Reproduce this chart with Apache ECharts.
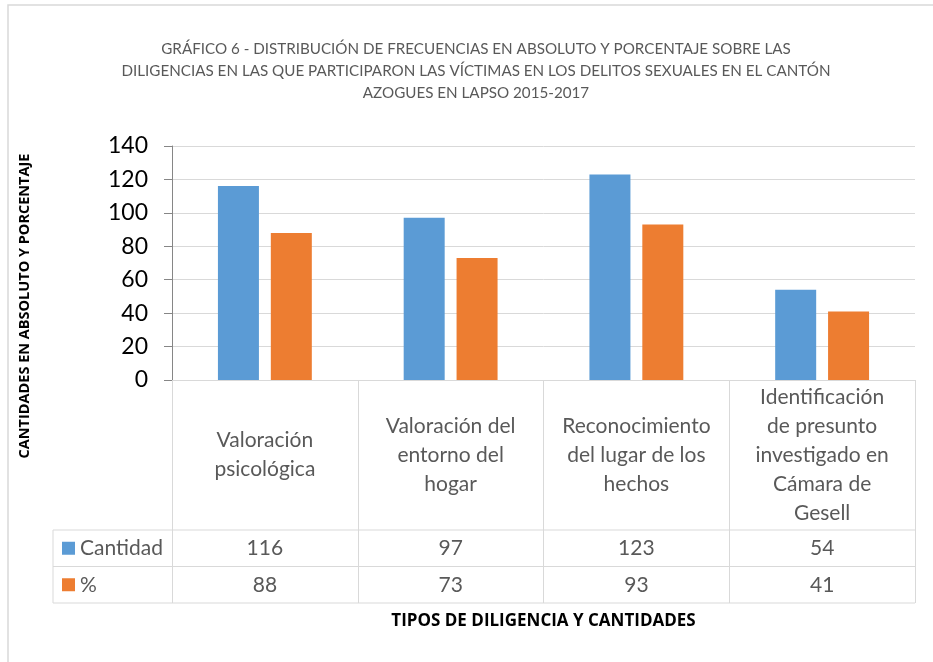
<!DOCTYPE html>
<html>
<head>
<meta charset="utf-8">
<script src="https://cdn.jsdelivr.net/npm/echarts@6/dist/echarts.min.js"></script>
<style>
  html, body { margin: 0; padding: 0; background: #fff; }
  #chart { width: 933px; height: 662px; }
</style>
</head>
<body>
<div id="chart"></div>
<script>
// data
const categories = [
  "Valoración\npsicológica",
  "Valoración del\nentorno del\nhogar",
  "Reconocimiento\ndel lugar de los\nhechos",
  "Identificación\nde presunto\ninvestigado en\nCámara de\nGesell"
];
const cantidad = [116, 97, 123, 54];
const porcentaje = [88, 73, 93, 41];
const yTicks = [0, 20, 40, 60, 80, 100, 120, 140];

const seriesNames = ["Cantidad", "%"];
const colors = ["#5B9BD5", "#ED7D31"];
const font = "Lato, 'Open Sans', sans-serif";
const lineGrey = "#d9d9d9";

// layout
const gridLeft = 172, gridRight = 915, gridTop = 146, gridBottom = 380;
const headerBottom = 530, rowH = 36.5, legendLeft = 53;

const chart = echarts.init(document.getElementById("chart"));

const option = {
  animation: false,
  backgroundColor: "#fff",
  title: {
    text: "GRÁFICO 6 - DISTRIBUCIÓN DE FRECUENCIAS EN ABSOLUTO Y PORCENTAJE SOBRE LAS\nDILIGENCIAS EN LAS QUE PARTICIPARON LAS VÍCTIMAS EN LOS DELITOS SEXUALES EN EL CANTÓN\nAZOGUES EN LAPSO 2015-2017",
    left: 471,
    top: 33,
    textAlign: "center",
    textStyle: {
      fontFamily: font,
      fontSize: 15.2,
      fontWeight: "normal",
      color: "#595959",
      lineHeight: 22
    }
  },
  grid: {
    left: gridLeft,
    right: 933 - gridRight,
    top: gridTop,
    bottom: 662 - gridBottom
  },
  xAxis: {
    type: "category",
    data: categories,
    axisLine: { lineStyle: { color: lineGrey, width: 1 } },
    axisTick: {
      show: true,
      interval: 0,
      length: headerBottom - gridBottom + rowH * 2,
      lineStyle: { color: lineGrey }
    },
    axisLabel: {
      interval: 0,
      margin: (headerBottom - gridBottom) / 2,
      verticalAlign: "middle",
      fontFamily: font,
      fontSize: 21,
      lineHeight: 29,
      color: "#595959"
    }
  },
  yAxis: {
    type: "value",
    min: yTicks[0],
    max: yTicks[yTicks.length - 1],
    interval: yTicks[1] - yTicks[0],
    axisLine: { show: true, lineStyle: { color: "#868686" } },
    axisTick: { show: true, length: 8, lineStyle: { color: "#868686" } },
    axisLabel: {
      margin: 24,
      fontFamily: font,
      fontSize: 23,
      color: "#000"
    },
    splitLine: { lineStyle: { color: lineGrey } }
  },
  series: [
    {
      name: seriesNames[0],
      type: "bar",
      data: cantidad,
      barWidth: 41,
      barGap: "29%",
      itemStyle: { color: colors[0] }
    },
    {
      name: seriesNames[1],
      type: "bar",
      data: porcentaje,
      barWidth: 41,
      itemStyle: { color: colors[1] }
    }
  ]
};

chart.setOption(option);

// data table under the axis, built from the arrays
const graphic = [];
const rows = [cantidad, porcentaje];

// outer frame
graphic.push({
  type: "rect",
  shape: { x: 8, y: 5, width: 940, height: 700 },
  style: { fill: "none", stroke: lineGrey, lineWidth: 1.5 },
  silent: true
});

for (let r = 0; r <= rows.length; r++) {
  const y = headerBottom + r * rowH;
  graphic.push({
    type: "line",
    shape: { x1: legendLeft, y1: y, x2: gridRight, y2: y },
    style: { stroke: lineGrey, lineWidth: 1 }
  });
}
graphic.push({
  type: "line",
  shape: { x1: legendLeft, y1: headerBottom, x2: legendLeft, y2: headerBottom + rowH * 2 },
  style: { stroke: lineGrey, lineWidth: 1 }
});

rows.forEach((vals, r) => {
  const cy = headerBottom + r * rowH + rowH / 2;
  graphic.push({
    type: "rect",
    shape: { x: 62, y: cy - 6.5, width: 13, height: 13 },
    style: { fill: colors[r] }
  });
  graphic.push({
    type: "text",
    x: 80,
    y: cy,
    style: {
      text: seriesNames[r],
      fontFamily: font,
      fontSize: 21,
      fill: "#595959",
      verticalAlign: "middle"
    }
  });
  vals.forEach((v, i) => {
    const cx = chart.convertToPixel({ xAxisIndex: 0 }, i);
    graphic.push({
      type: "text",
      x: cx,
      y: cy,
      style: {
        text: String(v),
        fontFamily: font,
        fontSize: 21,
        fill: "#595959",
        align: "center",
        verticalAlign: "middle"
      }
    });
  });
});

// axis titles
graphic.push({
  type: "text",
  x: 25,
  y: 306,
  rotation: Math.PI / 2,
  style: {
    text: "CANTIDADES EN ABSOLUTO Y PORCENTAJE",
    fontFamily: "'Open Sans', sans-serif",
    fontWeight: "bold",
    fontSize: 14.5,
    fill: "#000",
    align: "center",
    verticalAlign: "middle"
  }
});
graphic.push({
  type: "text",
  x: (gridLeft + gridRight) / 2,
  y: 621,
  style: {
    text: "TIPOS DE DILIGENCIA Y CANTIDADES",
    fontFamily: "'Open Sans', sans-serif",
    fontWeight: "bold",
    fontSize: 17,
    fill: "#000",
    align: "center",
    verticalAlign: "middle"
  }
});

chart.setOption({ graphic: graphic });
</script>
</body>
</html>
